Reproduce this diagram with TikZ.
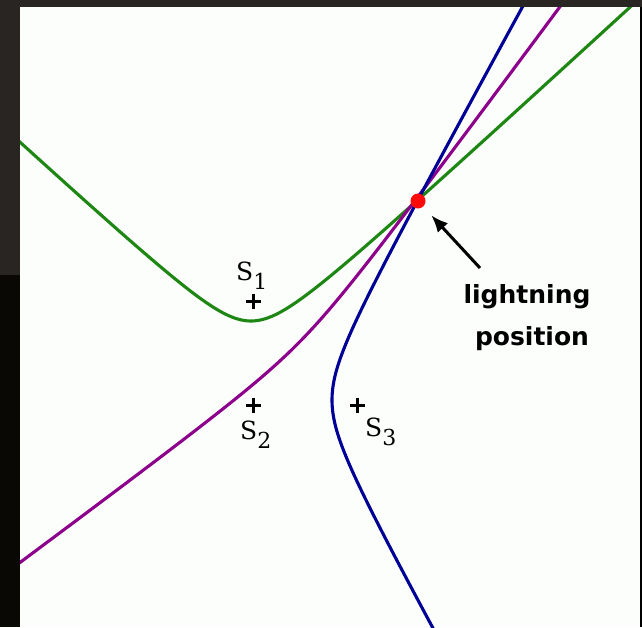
\documentclass[tikz,border=0pt]{standalone}
\usepackage{fontspec}
\newfontfamily\lblfont{DejaVu Sans}
\newfontfamily\stafont{DejaVu Serif}
\usetikzlibrary{arrows.meta}
\definecolor{bgdark}{RGB}{40,37,34}
\definecolor{bgblack}{RGB}{10,8,5}
\definecolor{paper}{RGB}{251,254,251}
\definecolor{cgreen}{RGB}{30,135,20}
\definecolor{cmag}{RGB}{140,0,140}
\definecolor{cblue}{RGB}{0,0,150}
\definecolor{cred}{RGB}{255,10,10}
\begin{document}
\begin{tikzpicture}[x=1pt,y=-1pt,
  curve/.style={line width=3.1pt},
  station/.style={line width=3pt,black},
  slabel/.style={font=\stafont\fontsize{25}{25}\selectfont, inner sep=0pt, anchor=base west},
  note/.style={font=\lblfont\bfseries\fontsize{25}{25}\selectfont, inner sep=0pt, anchor=base},
  dotnode/.style={circle, fill=cred, minimum size=15pt, inner sep=0pt, outer sep=0pt},
  pointer/.style={line width=3pt, -{Latex[length=17pt,width=14pt]}, shorten >=12pt}]
\useasboundingbox (0,0) rectangle (642,627);
\fill[bgdark] (0,0) rectangle (642,627);
\fill[bgblack] (0,275) rectangle (20,627);
\fill[black] (640,7) rectangle (642,627);
\fill[paper] (20,7) rectangle (640,627);
\begin{scope}
  \clip (20,7) rectangle (640,627);
  % green hyperbola (S1 side)
  \draw[curve,cgreen] plot[domain=15:645,samples=260] (\x,{321-36.8*(sqrt(1+((\x-251)/40)^2)-1)});
  % magenta hyperbola
  \draw[curve,cmag] plot[domain=-2.6:2.6,samples=260,variable=\t]
     ({305+(-12*cosh(\t)+80*sinh(\t))/1.41421},{353.5+(-12*cosh(\t)-80*sinh(\t))/1.41421});
  % blue hyperbola
  \draw[curve,cblue] plot[domain=0:630,samples=260,variable=\t]
     ({304.5+27.5*sqrt(1+((\t-400)/50)^2)},\t);
\end{scope}
% stations
\coordinate (s1) at (253,301);
\coordinate (s2) at (253,405);
\coordinate (s3) at (357,405);
\foreach \s in {s1,s2,s3}{
  \draw[station] ([xshift=-7.5pt]\s) -- ([xshift=7.5pt]\s);
  \draw[station] ([yshift=-7.5pt]\s) -- ([yshift=7.5pt]\s);
}
\node[slabel] (l1) at (236,280) {S\raisebox{-9pt}{\fontsize{22}{22}\selectfont 1}};
\node[slabel] (l2) at (240,439) {S\raisebox{-9pt}{\fontsize{22}{22}\selectfont 2}};
\node[slabel] (l3) at (365,436) {S\raisebox{-9pt}{\fontsize{22}{22}\selectfont 3}};
% lightning point
\node[dotnode] (hit) at (418,201) {};
\coordinate (atail) at (480,268);
\draw[pointer] (atail) -- (hit);
\node[note] (lt) at (527,303) {lightning};
\node[note] (ps) at (532,345) {position};
\end{tikzpicture}
\end{document}
